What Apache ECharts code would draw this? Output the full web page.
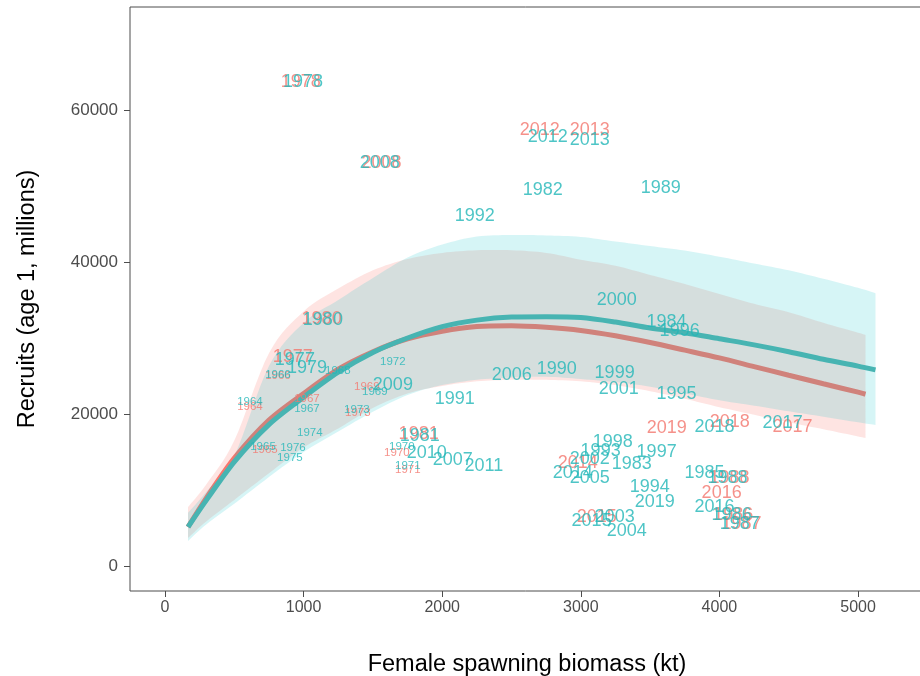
<!DOCTYPE html>
<html>
<head>
<meta charset="utf-8">
<script src="https://cdn.jsdelivr.net/npm/echarts@6/dist/echarts.min.js"></script>
<style>html,body{margin:0;padding:0;background:#fff}#c{width:920px;height:676px}</style>
</head>
<body>
<div id="c"></div>
<script>
// ---------- data ----------
const years = [1964,1965,1966,1967,1968,1969,1970,1971,1972,1973,1974,1975,1976,1977,1978,1979,1980,1981,1982,1983,1984,1985,1986,1987,1988,1989,1990,1991,1992,1993,1994,1995,1996,1997,1998,1999,2000,2001,2002,2003,2004,2005,2006,2007,2008,2009,2010,2011,2012,2013,2014,2015,2016,2017,2018,2019];
const tealX = [613,707,815,1024,1247,1514,1709,1752,1644,1384,1045,901,923,937,995,1024,1139,1838,2725,3367,3619,3893,4088,4146,4059,3576,2826,2091,2235,3143,3497,3691,3713,3547,3230,3244,3259,3273,3064,3244,3331,3064,2502,2076,1550,1644,1889,2300,2761,3064,2942,3078,3965,4456,3965,3533];
const tealY = [21580,15660,25200,20660,25660,22890,15660,13160,26840,20530,17500,14210,15530,27100,63680,26050,32370,17100,49470,13420,32100,12240,6710,5530,11580,49740,25920,21970,46050,15130,10400,22630,30920,15000,16320,25400,35000,23290,14080,6450,4600,11580,25130,13950,53030,23820,14870,13160,56450,56050,12240,5920,7760,18820,18290,8420];
const redX  = [613,721,815,1024,1247,1456,1673,1752,1644,1391,1045,901,923,922,980,1024,1130,1830,2725,3367,3619,3893,4100,4160,4072,3576,2826,2091,2235,3143,3497,3691,3713,3547,3230,3244,3259,3273,3064,3244,3331,3064,2502,2076,1562,1644,1889,2300,2704,3064,2978,3115,4016,4528,4074,3620];
const redY  = [20920,15260,25000,21970,25660,23550,14870,12630,26840,20130,17500,14210,15530,27500,63680,26050,32500,17300,49470,13420,32100,12240,6710,5530,11580,49740,25920,21970,46050,15130,10400,22630,30920,15000,16320,25400,35000,23290,14080,6450,4600,11580,25130,13950,53030,23820,14870,13160,57370,57370,13550,6450,9600,18290,18950,18160];

// fitted stock-recruit curves and confidence ribbons
const tealFitX  = [166,300,500,750,1000,1250,1500,1750,2000,2250,2500,2750,3000,3250,3500,3750,4000,4250,4500,4750,5000,5126];
const tealFit   = [5130,8700,13700,18600,22200,25500,28100,30000,31500,32350,32750,32800,32700,32100,31300,30700,29900,29100,28200,27200,26300,25800];
const tealUpper = [7000,9800,14500,26300,32000,35000,37900,40600,42300,43350,43550,43500,43300,42700,42100,41500,40700,39800,38900,37800,36600,35900];
const tealLower = [3300,5500,8200,11700,15000,17700,20300,22500,23800,24500,24800,24900,24600,24200,23600,22700,21800,21100,20350,19650,18900,18550];
const redFitX   = [166,300,500,750,1000,1250,1500,1750,2000,2250,2500,2750,3000,3250,3500,3750,4000,4250,4500,4750,5000,5054];
const redFit    = [5130,9000,14200,19200,22700,25900,28200,29900,30900,31500,31600,31400,31000,30300,29400,28400,27380,26240,25100,23980,22870,22600];
const redUpper  = [7760,10800,16500,28000,33500,36500,38900,40400,41200,41550,41550,41200,40300,39500,38300,37100,35800,34500,33400,32000,30700,30400];
const redLower  = [3680,5900,8700,12200,15600,18100,20800,22700,23700,24300,24500,24500,24300,23800,23000,22000,20900,19900,18900,18000,17050,16840];

const xTicks = [0,1000,2000,3000,4000,5000];
const yTicks = [0,20000,40000,60000];

// ---------- chart ----------
const chart = echarts.init(document.getElementById('c'), null, {renderer:'canvas'});
const FONT = 'Liberation Sans, Arial, sans-serif';

// Catmull-Rom smoothing of a pixel polyline (rendering only)
function smoothPx(p){
  const out=[];
  for(let i=0;i<p.length-1;i++){
    const p0=p[Math.max(i-1,0)], p1=p[i], p2=p[i+1], p3=p[Math.min(i+2,p.length-1)];
    for(let k=0;k<8;k++){
      const t=k/8, t2=t*t, t3=t2*t;
      out.push([0,1].map(d=>0.5*((2*p1[d])+(-p0[d]+p2[d])*t+(2*p0[d]-5*p1[d]+4*p2[d]-p3[d])*t2+(-p0[d]+3*p1[d]-3*p2[d]+p3[d])*t3)));
    }
  }
  out.push(p[p.length-1]);
  return out;
}
function ribbon(xs, up, lo, fill, z){
  return {
    type:'custom', z:z, silent:true,
    data:[[0,0]],
    renderItem:function(params, api){
      const u=smoothPx(xs.map((x,i)=>api.coord([x, up[i]])));
      const l=smoothPx(xs.map((x,i)=>api.coord([x, lo[i]])));
      return {type:'polygon', shape:{points:u.concat(l.reverse())}, style:{fill:fill}};
    }
  };
}
function fitLine(xs, ys, color, z){
  return {type:'line', z:z, silent:true, showSymbol:false, symbol:'none', smooth:0.3,
    data: xs.map((x,i)=>[x, ys[i]]),
    lineStyle:{color:color, width:5, cap:'butt'}};
}
function labels(xs, ys, color, z, skip){
  const data=[];
  years.forEach((yr,i)=>{
    if(skip && skip(i)) return; // fully hidden under an identical label
    data.push({name:String(yr), value:[xs[i], ys[i]], label:{fontSize: yr<=1976 ? 11.5 : 18}});
  });
  return {type:'scatter', z:z, silent:true, symbolSize:1,
    itemStyle:{color:'rgba(0,0,0,0)'},
    data:data,
    label:{show:true, position:'inside', formatter:'{b}', color:color, fontFamily:FONT,
      textBorderWidth:0, textBorderColor:'transparent', textShadowBlur:0}
  };
}
const sameAsTeal = i => redX[i]===tealX[i] && redY[i]===tealY[i];

chart.setOption({
  animation:false,
  backgroundColor:'#fff',
  grid:{left:130, right:-4, top:7, bottom:85, show:true, borderColor:'#4D4D4D', borderWidth:1,
        backgroundColor:'rgba(0,0,0,0)', outerBoundsMode:'none', containLabel:false},
  xAxis:{type:'value', min:-252.5, max:5476,
    name:'Female spawning biomass (kt)', nameLocation:'middle', nameGap:62,
    nameTextStyle:{fontSize:23.5, color:'#000', fontFamily:FONT},
    axisLine:{show:false, onZero:false}, splitLine:{show:false},
    axisTick:{show:true, inside:false, length:6, lineStyle:{color:'#4D4D4D'}, customValues:xTicks},
    axisLabel:{color:'#4D4D4D', fontSize:16, fontFamily:FONT, margin:9, customValues:xTicks, formatter:v=>String(v)}
  },
  yAxis:{type:'value', min:-3289, max:73553,
    name:'Recruits (age 1, millions)', nameLocation:'middle', nameGap:90,
    nameTextStyle:{fontSize:23.5, color:'#000', fontFamily:FONT},
    axisLine:{show:false, onZero:false}, splitLine:{show:false},
    axisTick:{show:true, inside:false, length:6, lineStyle:{color:'#4D4D4D'}, customValues:yTicks},
    axisLabel:{color:'#4D4D4D', fontSize:17, fontFamily:FONT, margin:12, customValues:yTicks, formatter:v=>String(v)}
  },
  series:[
    ribbon(redFitX, redUpper, redLower, 'rgba(248,118,109,0.2)', 1),
    fitLine(redFitX, redFit, '#F8766D', 2),
    ribbon(tealFitX, tealUpper, tealLower, 'rgba(0,191,196,0.16)', 3),
    fitLine(tealFitX, tealFit, '#47B4B2', 4),
    labels(redX, redY, '#F3766D', 5, sameAsTeal),
    labels(tealX, tealY, '#22B6B8', 6)
  ]
});
</script>
</body>
</html>
